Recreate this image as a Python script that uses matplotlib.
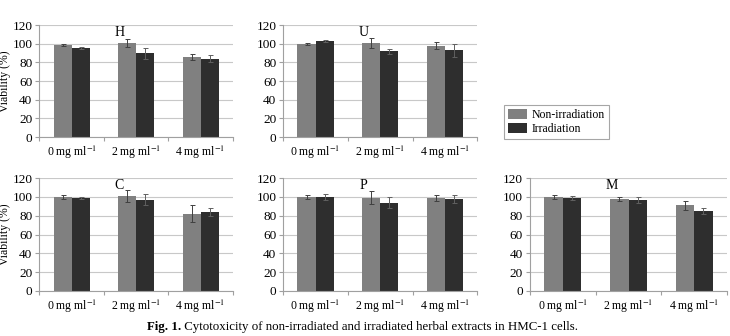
import numpy as np
import matplotlib
matplotlib.use("Agg")
import matplotlib.pyplot as plt

plt.rcParams['font.family'] = ['Liberation Serif', 'DejaVu Serif']
plt.rcParams['mathtext.fontset'] = 'stix'

# concentrations on the x axis
categories = ['0 mg ml$^{-1}$', '2 mg ml$^{-1}$', '4 mg ml$^{-1}$']

# viability (%), per herbal extract
h_non = [99, 101, 86]
h_non_err = [1, 4, 3]
h_irr = [96, 90, 84]
h_irr_err = [1, 6, 4]

u_non = [100, 101, 98]
u_non_err = [1, 5, 4]
u_irr = [103, 92, 93]
u_irr_err = [1, 3, 7]

c_non = [100, 101, 82]
c_non_err = [2, 6, 9]
c_irr = [99, 97, 84]
c_irr_err = [1, 6, 4]

p_non = [100, 99, 99]
p_non_err = [2, 7, 3]
p_irr = [100, 94, 98]
p_irr_err = [3, 6, 4]

m_non = [100, 98, 91]
m_non_err = [2, 2, 5]
m_irr = [99, 97, 85]
m_irr_err = [2, 3, 3]

GRAY = '#808080'
DARK = '#2e2e2e'
AXIS = '#a0a0a0'


def draw_panel(ax, label, non, non_err, irr, irr_err, ylabel=False):
    x = np.arange(len(categories))
    w = 0.28
    ax.set_axisbelow(True)
    ax.grid(axis='y', color='#c8c8c8', linewidth=0.8)
    b1 = ax.bar(x - w / 2, non, w, color=GRAY, label='Non-irradiation')
    b2 = ax.bar(x + w / 2, irr, w, color=DARK, label='Irradiation')
    ax.errorbar(x - w / 2, non, yerr=non_err, fmt='none', ecolor='#404040',
                elinewidth=0.7, capsize=1.8, capthick=0.7)
    ax.errorbar(x + w / 2, irr, yerr=irr_err, fmt='none', ecolor='#606060',
                elinewidth=0.7, capsize=1.8, capthick=0.7)
    ax.set_ylim(0, 120)
    ax.set_yticks(range(0, 121, 20))
    ax.set_xlim(-0.5, 2.5)
    ax.set_xticks(x)
    ax.set_xticklabels(categories, fontsize=8.5)
    ax.set_xticks([-0.5, 0.5, 1.5, 2.5], minor=True)
    ax.tick_params(axis='x', which='major', length=0, pad=5)
    ax.tick_params(axis='x', which='minor', length=3, color=AXIS, width=0.8)
    ax.tick_params(axis='y', length=3, color=AXIS, width=0.8, labelsize=9.5, pad=2)
    for s in ['top', 'right']:
        ax.spines[s].set_visible(False)
    for s in ['left', 'bottom']:
        ax.spines[s].set_color(AXIS)
        ax.spines[s].set_linewidth(0.8)
    ax.text(0.74, 112, label, ha='center', va='center', fontsize=10)
    if ylabel:
        ax.set_ylabel('Viability (%)', fontsize=8.5, labelpad=1)
    return b1, b2


fig = plt.figure(figsize=(7.3, 3.36), dpi=100)

ax_h = fig.add_axes([0.054, 0.592, 0.265, 0.333])
ax_u = fig.add_axes([0.388, 0.592, 0.266, 0.333])
ax_c = fig.add_axes([0.054, 0.134, 0.265, 0.336])
ax_p = fig.add_axes([0.388, 0.134, 0.266, 0.336])
ax_m = fig.add_axes([0.726, 0.134, 0.270, 0.336])

bars = draw_panel(ax_h, 'H', h_non, h_non_err, h_irr, h_irr_err, ylabel=True)
draw_panel(ax_u, 'U', u_non, u_non_err, u_irr, u_irr_err)
draw_panel(ax_c, 'C', c_non, c_non_err, c_irr, c_irr_err, ylabel=True)
draw_panel(ax_p, 'P', p_non, p_non_err, p_irr, p_irr_err)
draw_panel(ax_m, 'M', m_non, m_non_err, m_irr, m_irr_err)

leg = fig.legend(bars, ['Non-irradiation', 'Irradiation'],
                 loc='upper left', bbox_to_anchor=(0.690, 0.6875),
                 borderaxespad=0, fontsize=8.5, frameon=True, fancybox=False,
                 handlelength=1.6, handleheight=0.9, handletextpad=0.4,
                 labelspacing=0.15, borderpad=0.35)
leg.get_frame().set_edgecolor('#909090')
leg.get_frame().set_linewidth(0.8)

# caption: bold "Fig. 1." followed by regular text
t1 = fig.text(0.201, 0.027, 'Fig. 1.', fontsize=9.3, fontweight='bold',
              ha='left', va='center')
ax_h.annotate(' Cytotoxicity of non-irradiated and irradiated herbal extracts in HMC-1 cells.',
              xy=(1, 0.5), xycoords=t1, va='center', ha='left', fontsize=9.3,
              annotation_clip=False)

fig.savefig('out.png', dpi=100)
